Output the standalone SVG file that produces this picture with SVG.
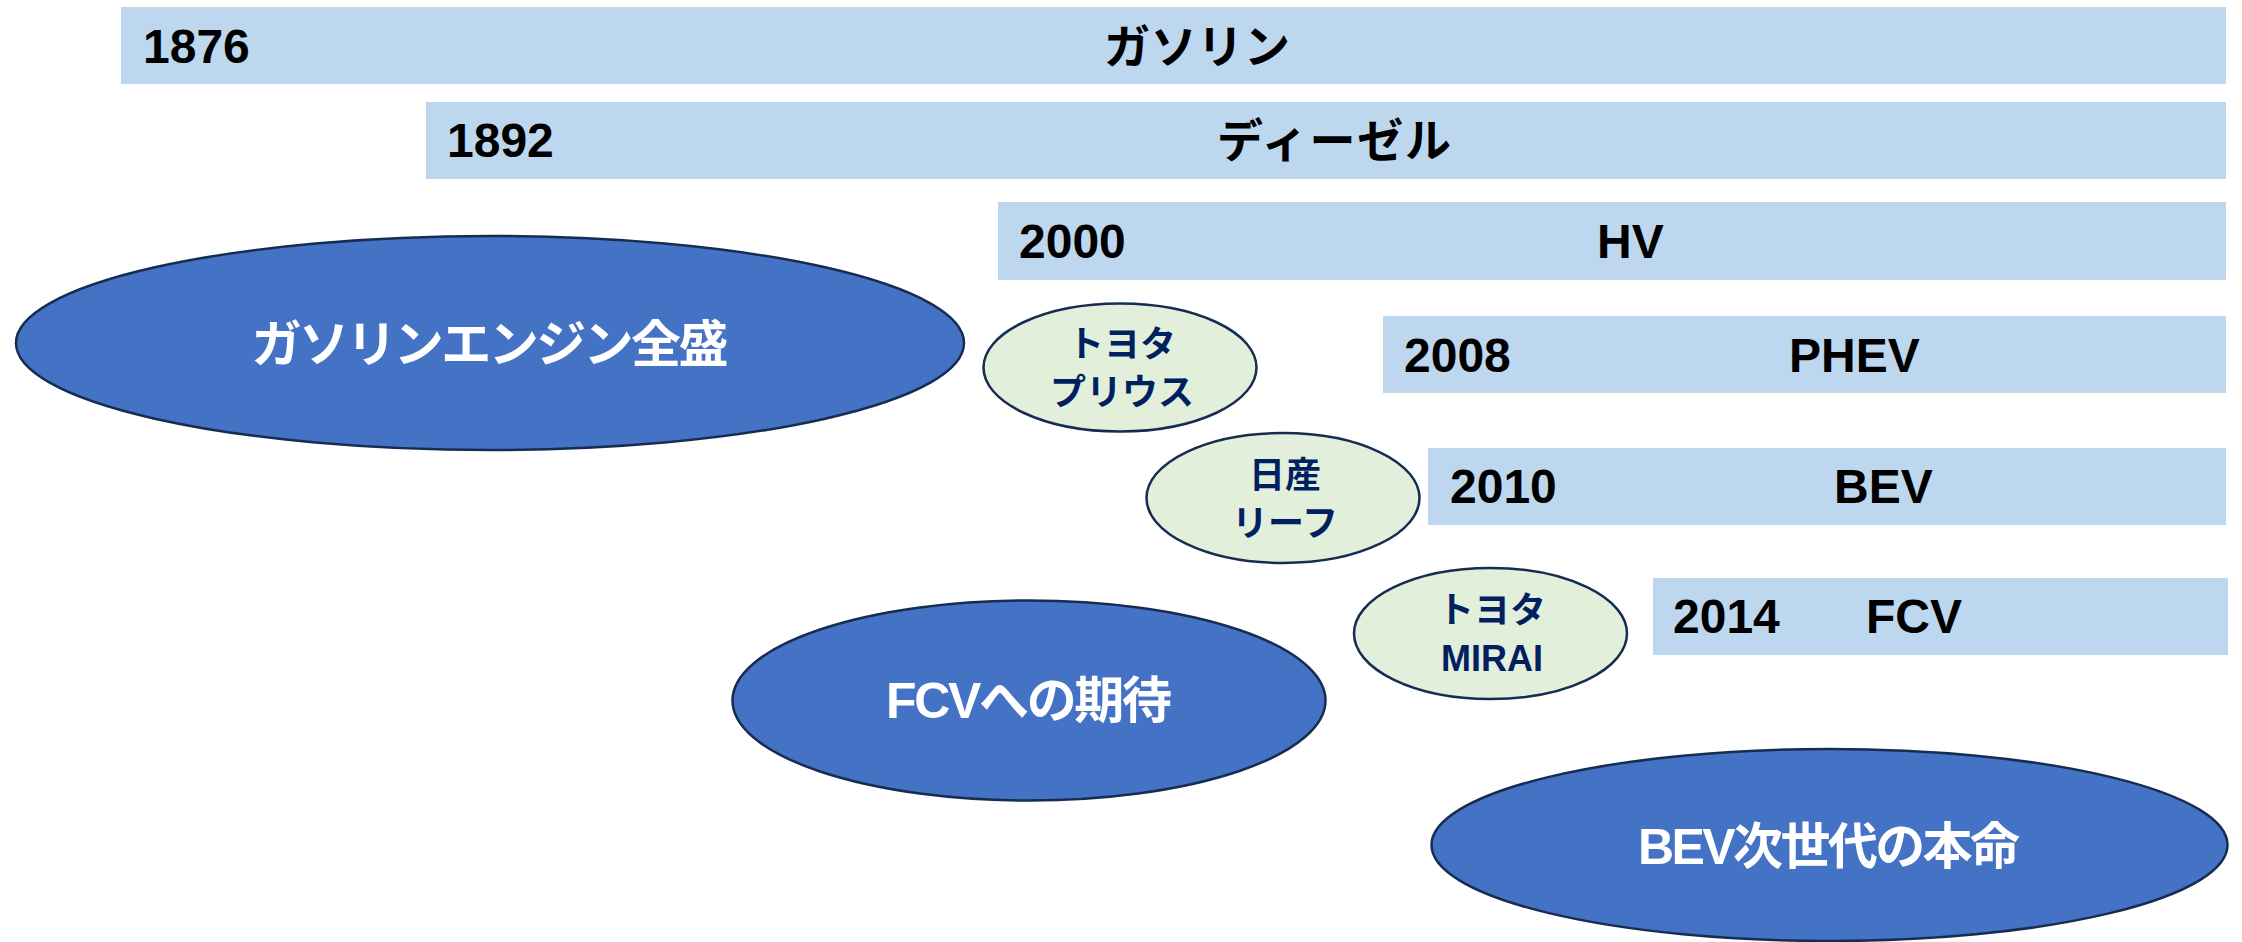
<svg xmlns="http://www.w3.org/2000/svg" width="2242" height="942" viewBox="0 0 2242 942">
<style>
.bar{fill:#BDD7EE}
.yr{font-family:"Liberation Sans","Noto Sans CJK JP",sans-serif;font-weight:bold;font-size:48px;fill:#000}
.jp{font-family:"Noto Sans CJK JP",sans-serif;font-weight:bold;font-size:46px;fill:#000}
.big{fill:#4472C4;stroke:#172C51;stroke-width:2.5}
.bigt{font-family:"Liberation Sans","Noto Sans CJK JP",sans-serif;font-weight:bold;font-size:50px;fill:#fff;text-anchor:middle}
.car{fill:#E2EFDA;stroke:#172C51;stroke-width:2.5}
.cart{font-family:"Liberation Sans","Noto Sans CJK JP",sans-serif;font-weight:bold;font-size:36px;fill:#002060;text-anchor:middle}
</style>
<rect width="2242" height="942" fill="#fff"/>
<g id="bar-gasoline">
<rect class="bar" x="121" y="7" width="2105" height="77"/>
<text class="yr" x="143" y="63">1876</text>
<text class="jp" x="1104" y="63" textLength="186">ガソリン</text>
</g>
<g id="bar-diesel">
<rect class="bar" x="426" y="102" width="1800" height="77"/>
<text class="yr" x="447" y="157">1892</text>
<text class="jp" x="1217" y="157" textLength="234">ディーゼル</text>
</g>
<g id="bar-hv">
<rect class="bar" x="998" y="202" width="1228" height="78"/>
<text class="yr" x="1019" y="258">2000</text>
<text class="yr" x="1597" y="258">HV</text>
</g>
<g id="bar-phev">
<rect class="bar" x="1383" y="316" width="843" height="77"/>
<text class="yr" x="1404" y="372">2008</text>
<text class="yr" x="1789" y="372">PHEV</text>
</g>
<g id="bar-bev">
<rect class="bar" x="1428" y="448" width="798" height="77"/>
<text class="yr" x="1450" y="503">2010</text>
<text class="yr" x="1834" y="503">BEV</text>
</g>
<g id="bar-fcv">
<rect class="bar" x="1653" y="578" width="575" height="77"/>
<text class="yr" x="1673" y="633">2014</text>
<text class="yr" x="1866" y="633">FCV</text>
</g>
<g id="era-gasoline">
<ellipse class="big" cx="490" cy="343" rx="474" ry="107"/>
<text class="bigt" x="490" y="362" font-size="52" textLength="477">ガソリンエンジン全盛</text>
</g>
<g id="car-prius">
<ellipse class="car" cx="1120" cy="367.5" rx="136.5" ry="64"/>
<text class="cart" x="1122" y="357">トヨタ</text>
<text class="cart" x="1122" y="405">プリウス</text>
</g>
<g id="car-leaf">
<ellipse class="car" cx="1283" cy="498" rx="136.5" ry="65"/>
<text class="cart" x="1285" y="488">日産</text>
<text class="cart" x="1285" y="536">リーフ</text>
</g>
<g id="car-mirai">
<ellipse class="car" cx="1490.5" cy="633.5" rx="136.5" ry="65.5"/>
<text class="cart" x="1492" y="623">トヨタ</text>
<text class="cart" x="1492" y="671" font-size="38">MIRAI</text>
</g>
<g id="era-fcv">
<ellipse class="big" cx="1029" cy="700.5" rx="296.5" ry="100"/>
<text class="bigt" x="1029" y="718" textLength="286">FCVへの期待</text>
</g>
<g id="era-bev">
<ellipse class="big" cx="1829.5" cy="845" rx="398" ry="96"/>
<text class="bigt" x="1829" y="864" textLength="382">BEV次世代の本命</text>
</g>
<g id="connectors"/>
</svg>
